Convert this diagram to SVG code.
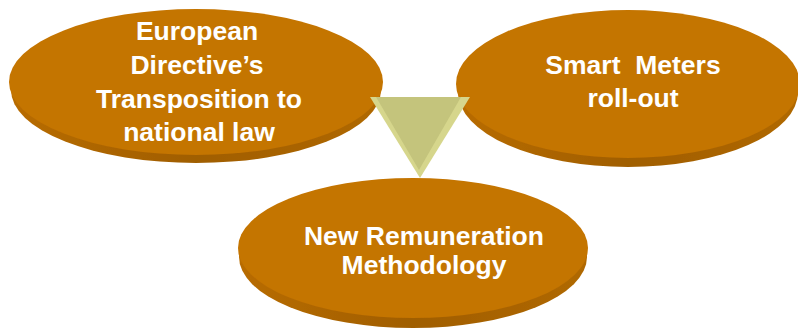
<svg xmlns="http://www.w3.org/2000/svg" width="798" height="331" viewBox="0 0 798 331">
<defs>
<filter id="soft" x="-5%" y="-5%" width="110%" height="110%"><feGaussianBlur stdDeviation="0.7"/></filter>
<linearGradient id="rim" x1="0" y1="0" x2="1" y2="0">
<stop offset="0" stop-color="#B86C00"/>
<stop offset="0.5" stop-color="#A05E00"/>
<stop offset="1" stop-color="#B06800"/>
</linearGradient>
</defs>
<style>
.rim{fill:url(#rim);filter:url(#soft)}
.face{fill:#C47400;filter:url(#soft)}
.lbl{font-family:"Liberation Sans",Arial,sans-serif;font-weight:bold;font-size:26.5px;fill:#FFFFFF;text-anchor:middle}
</style>
<g id="node-directive">
<ellipse class="rim" cx="196" cy="90" rx="185" ry="73"/>
<ellipse class="face" cx="196" cy="82" rx="187" ry="73"/>
<text class="lbl" x="197" y="40">European</text>
<text class="lbl" x="197" y="74">Directive’s</text>
<text class="lbl" x="199" y="108">Transposition to</text>
<text class="lbl" x="199" y="141">national law</text>
</g>
<g id="node-smart">
<ellipse class="rim" cx="628" cy="92" rx="170" ry="75"/>
<ellipse class="face" cx="628" cy="84" rx="172" ry="74"/>
<text class="lbl" x="633" y="74" xml:space="preserve">Smart  Meters</text>
<text class="lbl" x="633" y="107">roll-out</text>
</g>
<g id="connectors">
<polygon points="370,97 470,97 420,178" fill="#D6D68C"/>
<polygon points="376,97 461,97 419,170" fill="#C4C47C"/>
</g>
<g id="node-remuneration">
<ellipse class="rim" cx="413" cy="257" rx="174" ry="71"/>
<ellipse class="face" cx="413" cy="248" rx="175" ry="70"/>
<text class="lbl" x="424" y="245">New Remuneration</text>
<text class="lbl" x="424" y="274">Methodology</text>
</g>
</svg>
